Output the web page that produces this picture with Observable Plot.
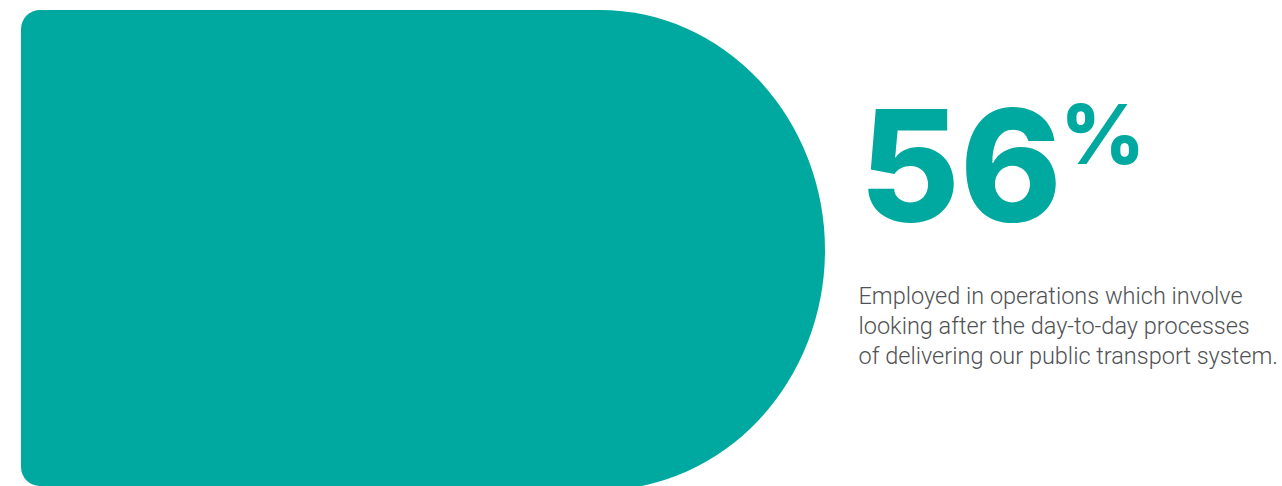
<!DOCTYPE html>
<html>
<head>
<meta charset="utf-8">
<script src="https://cdn.jsdelivr.net/npm/d3@7"></script>
<script src="https://cdn.jsdelivr.net/npm/@observablehq/plot@0.6"></script>
<style>
  html, body { margin: 0; padding: 0; background: #ffffff; }
  #chart svg { display: block; }
</style>
</head>
<body>
<div id="chart"></div>
<script>
// ---- data ----
const statValues = [56];
const statUnits = ["%"];
const descriptionLines = [
  "Employed in operations which involve",
  "looking after the day-to-day processes",
  "of delivering our public transport system."
];

// ---- layout / style (not data) ----
const W = 1282, H = 486;
const teal = "#00a99f";
const grey = "#505254";
const panel = { left: 21, top: 10, bottom: 486, corner: 19 };
const dome = { cx: 600, cy: 250, rx: 225, ry: 240 };
const statPos = { x: 859, baseline: 220, size: 154 };
const unitPos = { x: 1060, baseline: 163, size: 82 };
const descPos = { x: 858, lastBaseline: 363, size: 23.5, lineGap: 30 };

const stats = statValues.map((v, i) => ({ value: v, unit: statUnits[i] }));

const chart = Plot.plot({
  width: W,
  height: H,
  margin: 0,
  x: { type: "identity", axis: null },
  y: { type: "identity", axis: null },
  style: { background: "#ffffff", overflow: "hidden" },
  marks: [
    // rounded left part of the panel
    Plot.rect([0], { x1: panel.left, x2: panel.left + 200, y1: panel.top, y2: panel.bottom, fill: teal, rx: panel.corner }),
    // straight middle part of the panel
    Plot.rect([0], { x1: panel.left + 100, x2: dome.cx, y1: panel.top, y2: panel.bottom, fill: teal }),
    // elliptical dome on the right
    Plot.rect([0], { x1: dome.cx - dome.rx, x2: dome.cx + dome.rx, y1: dome.cy - dome.ry, y2: dome.cy + dome.ry, fill: teal, rx: 2000, ry: 2000 }),
    // big statistic
    Plot.text(stats, {
      x: () => statPos.x, y: () => statPos.baseline,
      text: d => String(d.value),
      textAnchor: "start", lineAnchor: "bottom",
      fill: teal, fontSize: statPos.size, fontWeight: 800,
      fontFamily: "Inter, 'Open Sans', sans-serif"
    }),
    Plot.text(stats, {
      x: () => unitPos.x, y: () => unitPos.baseline,
      text: d => d.unit,
      textAnchor: "start", lineAnchor: "bottom",
      fill: teal, fontSize: unitPos.size, fontWeight: 800,
      fontFamily: "Inter, 'Open Sans', sans-serif"
    }),
    // description
    Plot.text([descriptionLines.join("\n")], {
      x: () => descPos.x, y: () => descPos.lastBaseline,
      text: d => d,
      textAnchor: "start", lineAnchor: "bottom",
      lineHeight: descPos.lineGap / descPos.size,
      fill: grey, fontSize: descPos.size, fontWeight: 300,
      fontFamily: "Roboto, 'Liberation Sans', sans-serif"
    })
  ]
});
document.getElementById("chart").appendChild(chart);
</script>
</body>
</html>
